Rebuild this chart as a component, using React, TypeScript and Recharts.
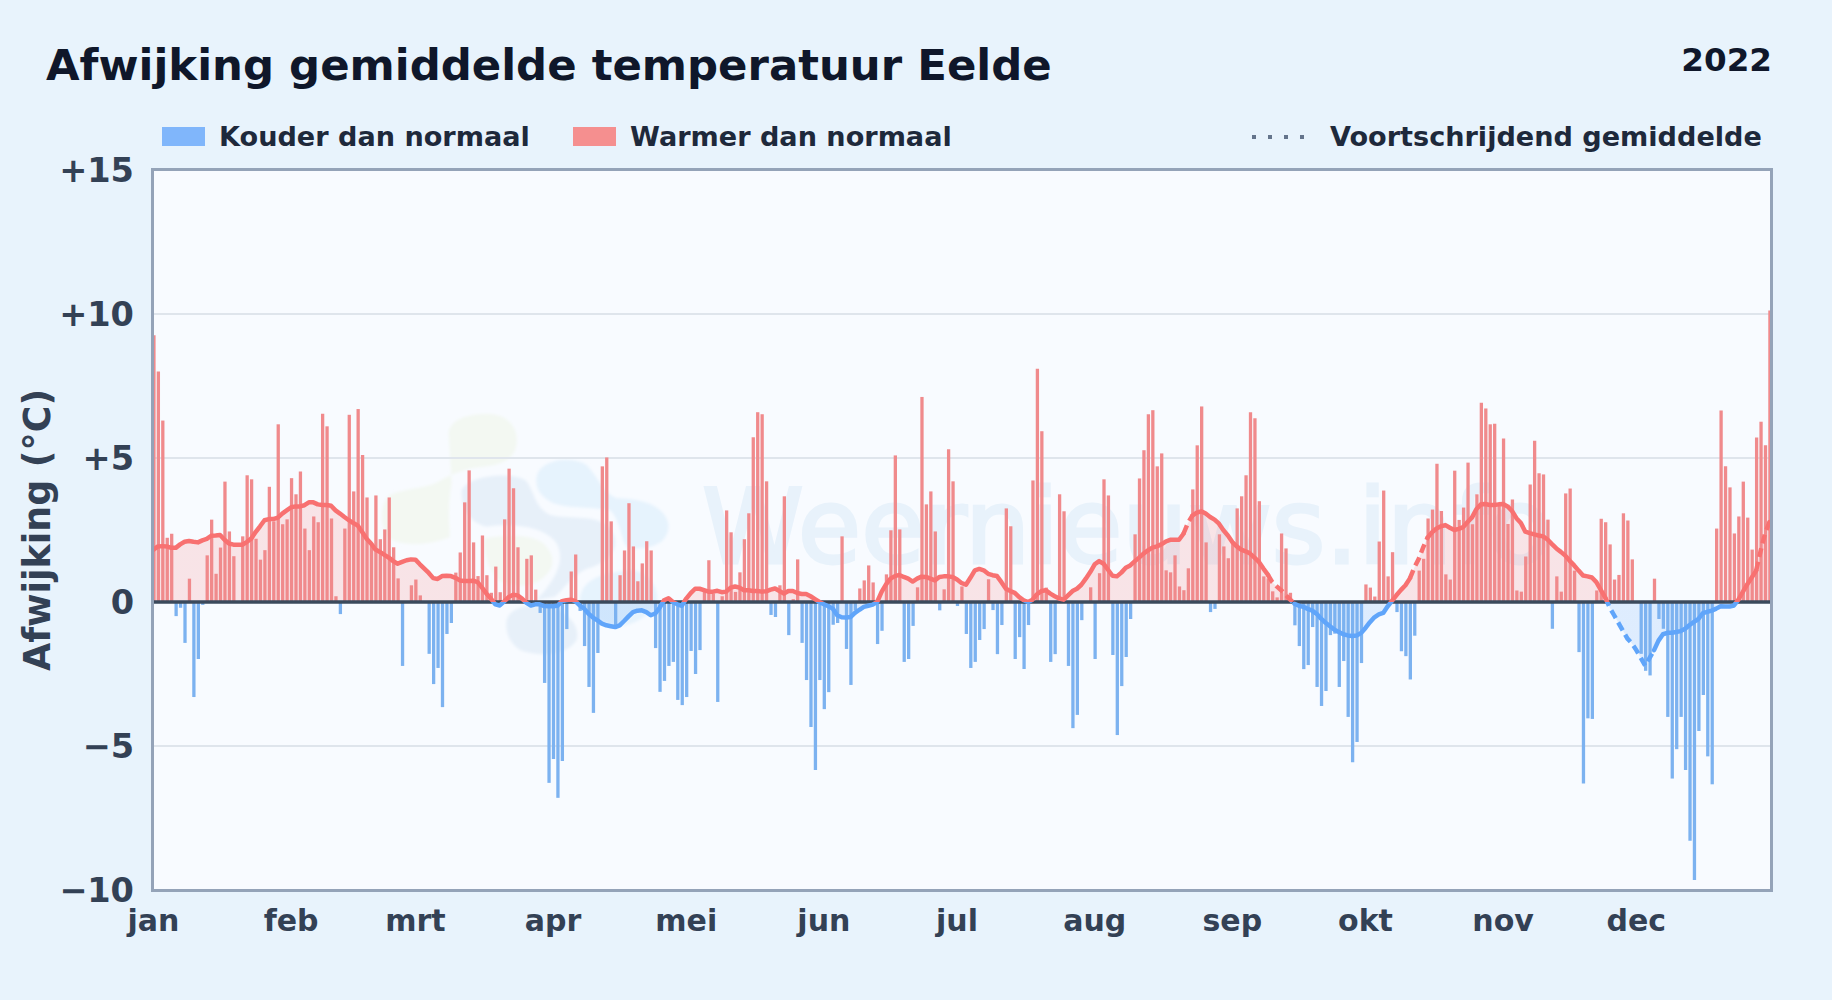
import React from "react";
import {
  Area,
  Bar,
  CartesianGrid,
  Cell,
  ComposedChart,
  Line,
  ReferenceLine,
  XAxis,
  YAxis,
} from "recharts";

const title = "Afwijking gemiddelde temperatuur Eelde";
const year = "2022";
const monthLabels = ["jan", "feb", "mrt", "apr", "mei", "jun", "jul", "aug", "sep", "okt", "nov", "dec"];
const monthStarts = [0, 31, 59, 90, 120, 151, 181, 212, 243, 273, 304, 334];
const valueTicks = [-10, -5, 0, 5, 10, 15];

const departures = [
  9.26, 8.0, 6.3, 2.23, 2.37, -0.49, -0.2, -1.42, 0.81, -3.3,
  -1.98, -0.1, 1.62, 2.86, 0.98, 1.89, 4.18, 2.45, 1.59, 0,
  2.28, 4.4, 4.26, 2.2, 1.47, 1.8, 4.0, 2.8, 6.17, 2.7,
  2.87, 4.3, 3.74, 4.53, 2.55, 1.8, 2.97, 2.77, 6.54, 6.1,
  2.9, 0.2, -0.42, 2.55, 6.5, 3.84, 6.7, 5.1, 3.63, 2.05,
  3.7, 2.18, 2.52, 3.63, 1.9, 0.82, -2.22, 0, 0.58, 0.78,
  0.23, 0, -1.8, -2.85, -2.29, -3.65, -1.11, -0.73, 1.02, 1.72,
  3.46, 4.57, 2.07, 0.9, 2.31, 0.93, 0.32, 1.23, 0.34, 2.87,
  4.63, 3.95, 1.9, 0, 1.5, 1.62, 0.43, -0.38, -2.81, -6.28,
  -5.45, -6.8, -5.52, -0.94, 1.06, 1.65, -0.31, -1.53, -2.95, -3.85,
  -1.77, 4.71, 5.02, 2.8, -0.87, 0.93, 1.79, 3.43, 1.93, 0.72,
  1.34, 2.11, 1.79, -1.6, -3.12, -2.74, -2.22, -2.08, -3.4, -3.58,
  -3.3, -1.7, -2.5, -1.67, 0.4, 1.45, 0.3, -3.47, 0.2, 3.18,
  2.42, 0.35, 1.03, 2.18, 3.08, 5.72, 6.59, 6.52, 4.19, -0.45,
  -0.52, 0.58, 3.67, -1.15, 0.1, 1.48, -1.42, -2.71, -4.34, -5.83,
  -2.71, -3.72, -3.13, -0.79, -0.73, 2.28, -1.63, -2.88, -0.29, 0.47,
  0.75, 1.27, 0.68, -1.46, -1.0, 0.96, 2.49, 5.09, 2.52, -2.08,
  -1.98, -0.83, 0.51, 7.12, 3.39, 3.84, 2.45, -0.29, 0.44, 5.3,
  4.19, -0.14, 0.54, -1.11, -2.29, -2.08, -1.32, -0.94, 0.79, -0.28,
  -1.81, -0.8, 3.25, 2.63, -1.98, -1.22, -2.33, -0.8, 4.22, 8.1,
  5.93, 0.5, -2.08, -1.81, 3.74, 3.15, -2.22, -4.38, -3.92, -0.63,
  0, 0.51, -1.98, 1.0, 4.26, 3.7, -1.84, -4.62, -2.92, -1.91,
  -0.59, 2.35, 4.29, 5.27, 6.52, 6.66, 4.71, 5.16, 1.1, 1.03,
  1.62, 0.54, 0.41, 1.17, 3.91, 5.44, 6.79, 2.07, -0.35, -0.24,
  2.35, 1.93, 1.52, 2.1, 3.25, 3.67, 4.4, 6.59, 6.38, 3.5,
  0.89, 0.82, 0.37, 0.16, 2.38, 1.86, 0.32, -0.81, -1.53, -2.33,
  -2.19, -0.87, -2.95, -3.61, -3.09, -1.15, -1.1, -2.95, -2.05, -3.99,
  -5.56, -4.86, -2.12, 0.61, 0.5, 0.19, 2.1, 3.87, 0.89, 1.73,
  -0.35, -1.71, -1.88, -2.69, -1.17, 1.09, 1.5, 2.9, 3.21, 4.8,
  3.16, 0.96, 0.78, 4.56, 2.85, 3.28, 4.84, 2.7, 3.74, 6.92,
  6.72, 6.17, 6.19, 3.39, 5.68, 2.71, 3.56, 0.4, 0.36, 1.58,
  4.08, 5.6, 4.47, 4.43, 2.86, -0.93, 0.89, 0.36, 3.77, 3.94,
  1.09, -1.74, -6.3, -4.04, -4.06, 0.4, 2.89, 2.77, 2.0, 0.78,
  0.94, 3.08, 2.83, 1.48, 0, -1.8, -2.39, -2.55, 0.81, -0.59,
  -0.93, -3.99, -6.13, -5.11, -3.99, -5.83, -8.29, -9.65, -4.48, -3.23,
  -5.36, -6.33, 2.55, 6.65, 4.71, 3.98, 2.38, 2.97, 4.18, 2.93,
  1.82, 5.71, 6.26, 5.44, 10.12,
];

const runningMean = [
  1.82, 1.93, 1.94, 1.93, 1.88, 1.88, 2.0, 2.09, 2.12, 2.09,
  2.07, 2.14, 2.19, 2.3, 2.31, 2.33, 2.16, 2.03, 1.99, 1.99,
  1.99, 2.08, 2.2, 2.43, 2.63, 2.84, 2.88, 2.88, 2.93, 3.07,
  3.18, 3.29, 3.32, 3.32, 3.36, 3.46, 3.46, 3.39, 3.37, 3.37,
  3.34, 3.18, 3.07, 2.95, 2.84, 2.74, 2.66, 2.43, 2.2, 2.03,
  1.82, 1.74, 1.64, 1.54, 1.42, 1.33, 1.39, 1.45, 1.48, 1.47,
  1.31, 1.16, 1.01, 0.83, 0.8, 0.9, 0.91, 0.9, 0.84, 0.75,
  0.73, 0.73, 0.74, 0.69, 0.5, 0.29, 0.12, -0.08, -0.12, 0.02,
  0.17, 0.25, 0.23, 0.12, -0.03, -0.12, -0.08, -0.08, -0.14, -0.15,
  -0.15, -0.13, 0.03, 0.06, 0.08, 0.03, -0.12, -0.23, -0.41, -0.54,
  -0.64, -0.75, -0.81, -0.84, -0.87, -0.81, -0.66, -0.5, -0.35, -0.3,
  -0.29, -0.35, -0.46, -0.4, -0.2, 0.06, 0.13, 0, -0.08, -0.13,
  0.12, 0.31, 0.46, 0.46, 0.41, 0.36, 0.36, 0.39, 0.34, 0.36,
  0.5, 0.54, 0.5, 0.41, 0.41, 0.38, 0.38, 0.36, 0.37, 0.43,
  0.47, 0.38, 0.29, 0.38, 0.38, 0.31, 0.28, 0.28, 0.2, 0.1,
  0, -0.08, -0.15, -0.23, -0.46, -0.53, -0.54, -0.52, -0.38, -0.27,
  -0.17, -0.13, -0.09, 0, 0.35, 0.61, 0.81, 0.9, 0.94, 0.87,
  0.81, 0.71, 0.81, 0.88, 0.87, 0.81, 0.75, 0.87, 0.89, 0.89,
  0.87, 0.78, 0.66, 0.6, 0.84, 1.1, 1.15, 1.1, 0.98, 0.93,
  0.9, 0.69, 0.46, 0.38, 0.32, 0.17, 0.06, 0, 0.08, 0.27,
  0.38, 0.41, 0.29, 0.2, 0.12, 0.08, 0.23, 0.38, 0.46, 0.6,
  0.81, 1.04, 1.31, 1.42, 1.33, 1.12, 0.91, 0.89, 1.02, 1.19,
  1.27, 1.41, 1.54, 1.68, 1.79, 1.89, 1.93, 2.0, 2.1, 2.16,
  2.16, 2.16, 2.37, 2.74, 3.0, 3.1, 3.15, 3.07, 2.95, 2.86,
  2.72, 2.49, 2.31, 2.08, 1.93, 1.82, 1.76, 1.68, 1.54, 1.39,
  1.16, 0.95, 0.69, 0.54, 0.41, 0.25, 0.09, -0.06, -0.13, -0.17,
  -0.24, -0.3, -0.41, -0.58, -0.72, -0.84, -0.96, -1.04, -1.12, -1.16,
  -1.18, -1.16, -1.08, -0.9, -0.7, -0.53, -0.43, -0.38, -0.15, 0.05,
  0.24, 0.42, 0.58, 0.82, 1.2, 1.5, 1.9, 2.24, 2.42, 2.55,
  2.63, 2.67, 2.58, 2.5, 2.54, 2.6, 2.78, 2.94, 3.23, 3.39,
  3.4, 3.37, 3.37, 3.39, 3.4, 3.32, 3.16, 2.91, 2.74, 2.44,
  2.39, 2.35, 2.31, 2.28, 2.17, 2.01, 1.86, 1.74, 1.61, 1.43,
  1.27, 1.09, 0.92, 0.89, 0.85, 0.69, 0.42, 0.15, -0.19, -0.46,
  -0.73, -1.0, -1.27, -1.44, -1.67, -1.94, -2.21, -1.94, -1.67, -1.34,
  -1.12, -1.07, -1.07, -1.04, -1.01, -0.93, -0.8, -0.69, -0.59, -0.39,
  -0.34, -0.3, -0.23, -0.15, -0.16, -0.16, -0.12, 0.08, 0.35, 0.62,
  0.85, 1.09, 1.77, 2.38, 2.78,
];

// stretches where the line is drawn dashed
const dashedSpans = [
  [232, 234],
  [251, 257],
  [283, 287],
  [327, 338],
  [361, 364],
];

const RED = "#f87171";
const BLUE = "#60a5fa";
const FONT = "'DejaVu Sans', sans-serif";

const isDashed = (day: number) => dashedSpans.some(([a, b]) => day >= a && day <= b);
const isInnerDashed = (day: number) => dashedSpans.some(([a, b]) => day > a && day < b);

const data = departures.map((value, day) => ({
  day,
  value,
  mean: runningMean[day],
  solid: isInnerDashed(day) ? null : runningMean[day],
  dashed: isDashed(day) ? runningMean[day] : null,
}));

const formatValue = (v: number) => (v > 0 ? `+${v}` : v < 0 ? `\u2212${-v}` : "0");
const formatMonth = (day: number) => monthLabels[monthStarts.indexOf(day)];

function Logo() {
  return (
    <svg
      width={320}
      height={270}
      viewBox="0 0 960 810"
      style={{ position: "absolute", left: 370 - 152, top: 400 - 170 }}
    >
      <defs>
        <filter id="soft">
          <feGaussianBlur stdDeviation="4" />
        </filter>
      </defs>
      <g filter="url(#soft)">
        <path
          fill="#f3f8f2"
          d="M236 100 C240 55 300 40 360 42 C420 45 445 90 440 130 C435 175 400 195 340 200 C280 205 240 225 205 245 C170 265 100 265 60 285 C30 310 25 380 60 415 C100 445 200 430 240 410 C235 350 235 300 245 250 Z"
        />
        <path
          fill="#f3f8f2"
          d="M345 415 C400 405 480 400 520 430 C560 470 555 510 510 540 C480 565 420 560 385 540 C350 500 340 450 345 415 Z"
        />
        <path
          fill="#e7f0f9"
          d="M275 270 C300 225 420 215 465 240 C495 270 490 320 540 345 C600 360 680 340 720 385 C755 430 730 475 670 500 C610 515 590 560 555 590 L500 600 C575 520 580 470 560 430 C520 375 420 370 350 380 C300 370 270 320 275 270 Z"
        />
        <path
          fill="#e7f0f9"
          d="M410 660 C420 620 480 610 540 620 C600 640 630 680 620 720 C590 770 500 770 450 750 C420 730 405 700 410 660 Z"
        />
        <path
          fill="#e6f3fd"
          d="M500 230 C510 180 600 165 650 195 C690 240 700 280 740 295 C800 295 880 310 895 370 C900 420 860 450 780 445 C750 440 760 370 720 330 C650 320 590 325 550 310 C510 290 495 265 500 230 Z"
        />
        <path
          fill="#e6f3fd"
          d="M630 590 C640 540 690 520 780 510 C830 510 870 560 860 610 C830 660 770 680 740 680 C680 660 630 630 630 590 Z"
        />
      </g>
    </svg>
  );
}

function PlotBackground() {
  return (
    <div
      style={{
        position: "absolute",
        left: 152,
        top: 170,
        width: 1619,
        height: 720,
        boxSizing: "border-box",
        background: "#f8fbff",
        overflow: "hidden",
      }}
    >
      <Logo />
      <svg width={1619} height={720} style={{ position: "absolute", left: 0, top: 0 }}>
        <text
          x={702 - 152}
          y={563 - 170}
          fontFamily={FONT}
          fontSize={103}
          fill="#e8f2fb"
          stroke="#e8f2fb"
          strokeWidth={3}
        >
          Weernieuws.info
        </text>
      </svg>
    </div>
  );
}

function PlotBorder() {
  return (
    <div
      style={{
        position: "absolute",
        left: 151,
        top: 168,
        width: 1622,
        height: 724,
        boxSizing: "border-box",
        border: "3px solid #94a3b8",
        pointerEvents: "none",
      }}
    />
  );
}

function Swatch({ left, color }: { left: number; color: string }) {
  return (
    <div
      style={{ position: "absolute", left, top: 127, width: 43, height: 19, background: color }}
    />
  );
}

function Caption({ left, text }: { left: number; text: string }) {
  return (
    <div
      style={{
        position: "absolute",
        left,
        top: 120,
        fontSize: 27.1,
        fontWeight: 700,
        lineHeight: "34px",
        color: "#1e293b",
        whiteSpace: "nowrap",
      }}
    >
      {text}
    </div>
  );
}

export default function App() {
  return (
    <div
      style={{
        position: "fixed",
        left: 0,
        top: 0,
        width: 1832,
        height: 1000,
        background: "#e8f3fc",
        fontFamily: FONT,
        overflow: "hidden",
      }}
    >
      <div
        style={{
          position: "absolute",
          left: 46,
          top: 40,
          fontSize: 43.4,
          fontWeight: 700,
          lineHeight: "50px",
          color: "#0f172a",
          whiteSpace: "nowrap",
        }}
      >
        {title}
      </div>
      <div
        style={{
          position: "absolute",
          right: 60,
          top: 41,
          fontSize: 32.6,
          fontWeight: 700,
          lineHeight: "38px",
          color: "#0f172a",
        }}
      >
        {year}
      </div>

      <Swatch left={162} color="#80b6fb" />
      <Caption left={219} text="Kouder dan normaal" />
      <Swatch left={573} color="#f58f8f" />
      <Caption left={630} text="Warmer dan normaal" />
      <svg
        width={56}
        height={10}
        style={{ position: "absolute", left: 1251, top: 132 }}
      >
        <line x1={1} y1={5} x2={56} y2={5} stroke="#64748b" strokeWidth={4} strokeDasharray="4 12" />
      </svg>
      <Caption left={1330} text="Voortschrijdend gemiddelde" />

      <PlotBackground />

      <div style={{ position: "absolute", left: 0, top: 0 }}>
        <ComposedChart
          width={1832}
          height={1000}
          data={data}
          margin={{ top: 170, right: 61, bottom: 70, left: 0 }}
        >
          <defs>
            {/* colour flips at the zero line: 15 of the 25 degrees lie above it */}
            <linearGradient id="meanStroke" gradientUnits="userSpaceOnUse" x1={0} y1={170} x2={0} y2={890}>
              <stop offset="60%" stopColor={RED} />
              <stop offset="60%" stopColor={BLUE} />
            </linearGradient>
            <linearGradient id="meanFill" gradientUnits="userSpaceOnUse" x1={0} y1={170} x2={0} y2={890}>
              <stop offset="60%" stopColor={RED} stopOpacity={0.17} />
              <stop offset="60%" stopColor={BLUE} stopOpacity={0.17} />
            </linearGradient>
          </defs>
          <CartesianGrid vertical={false} stroke="#dfe5ec" strokeWidth={2} />
          <XAxis
            dataKey="day"
            type="number"
            domain={[0, 364]}
            ticks={monthStarts}
            tickFormatter={formatMonth}
            interval={0}
            padding={{ left: 1.5, right: 1.5 }}
            axisLine={false}
            tickLine={false}
            height={40}
            tickMargin={14}
            tick={{ fontSize: 30, fontWeight: 700, fill: "#334155", fontFamily: FONT }}
          />
          <YAxis
            domain={[-10, 15]}
            ticks={valueTicks}
            tickFormatter={formatValue}
            interval={0}
            width={152}
            axisLine={false}
            tickLine={false}
            tickMargin={12}
            tick={{ fontSize: 33.6, fontWeight: 700, fill: "#334155", fontFamily: FONT }}
            label={{
              value: "Afwijking (\u00b0C)",
              angle: -90,
              position: "insideLeft",
              offset: 37,
              style: { fontSize: 36.4, fontWeight: 700, fill: "#334155", fontFamily: FONT, textAnchor: "middle" },
            }}
          />
          <Area
            dataKey="mean"
            type="linear"
            stroke="none"
            fill="url(#meanFill)"
            fillOpacity={1}
            dot={false}
            activeDot={false}
            isAnimationActive={false}
          />
          <Bar dataKey="value" barSize={3.3} isAnimationActive={false}>
            {data.map((d) => (
              <Cell key={d.day} fill={d.value >= 0 ? "#f08a8c" : "#7cb2f0"} />
            ))}
          </Bar>
          <ReferenceLine y={0} stroke="#3b4a5c" strokeWidth={3.5} />
          <Line
            dataKey="solid"
            type="linear"
            stroke="url(#meanStroke)"
            strokeWidth={4.5}
            strokeLinejoin="round"
            strokeLinecap="round"
            dot={false}
            activeDot={false}
            isAnimationActive={false}
          />
          <Line
            dataKey="dashed"
            type="linear"
            stroke="url(#meanStroke)"
            strokeWidth={4.5}
            strokeDasharray="9 5"
            dot={false}
            activeDot={false}
            isAnimationActive={false}
          />
        </ComposedChart>
      </div>

      <PlotBorder />
    </div>
  );
}
